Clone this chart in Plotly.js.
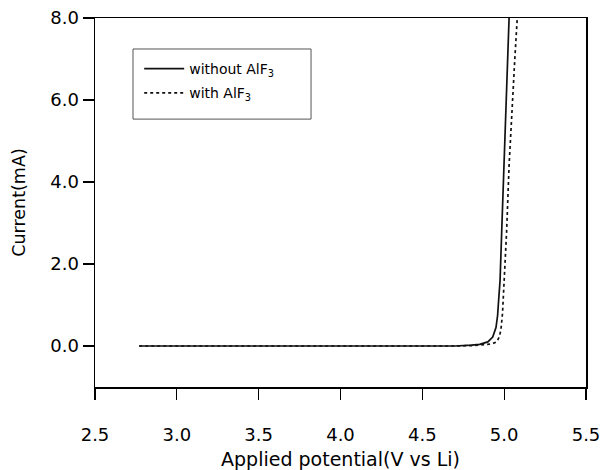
<!DOCTYPE html>
<html>
<head>
<meta charset="utf-8">
<script src="https://cdn.plot.ly/plotly-3.0.1.min.js"></script>
<style>html,body{margin:0;padding:0;background:#fff;}#chart{width:603px;height:470px;}</style>
</head>
<body>
<div id="chart"></div>
<script>
// Potential (V vs Li) and current (mA)
const potentialWithout = [2.77, 3.0, 3.5, 4.0, 4.5, 4.7, 4.8, 4.85, 4.9, 4.93, 4.95, 4.96, 4.965, 4.975, 4.985, 5.0, 5.01, 5.02, 5.03];
const currentWithout   = [0.0, 0.0, 0.0, 0.0, -0.01, 0.0, 0.02, 0.04, 0.1, 0.22, 0.45, 0.75, 1.05, 1.6, 2.8, 4.5, 6.0, 7.0, 8.0];
const potentialWith    = [2.77, 3.0, 3.5, 4.0, 4.5, 4.7, 4.8, 4.85, 4.9, 4.93, 4.955, 4.97, 4.98, 4.99, 4.995, 5.0, 5.015, 5.03, 5.05, 5.065, 5.08];
const currentWith      = [0.0, 0.0, 0.0, 0.0, -0.01, 0.0, 0.01, 0.02, 0.04, 0.06, 0.1, 0.22, 0.39, 0.8, 1.2, 1.6, 2.8, 4.4, 6.0, 7.0, 8.0];
const seriesNames = ["without AlF<sub>3</sub>", "with AlF<sub>3</sub>"];
const xTicks = [2.5, 3.0, 3.5, 4.0, 4.5, 5.0, 5.5];
const yTicks = [0.0, 2.0, 4.0, 6.0, 8.0];

const FONT = "DejaVu Sans, Verdana, sans-serif";

const traces = [
  {x: potentialWithout, y: currentWithout, name: seriesNames[0], type: "scatter", mode: "lines",
   line: {color: "#111", width: 1.7, dash: "solid"}, legendgroup: "a"},
  {x: potentialWith, y: currentWith, name: seriesNames[1], type: "scatter", mode: "lines",
   line: {color: "#111", width: 1.7, dash: "dot"}, legendgroup: "b"}
];

const layout = {
  width: 603, height: 470,
  margin: {l: 95, r: 17, t: 18, b: 83},
  paper_bgcolor: "#fff", plot_bgcolor: "#fff",
  font: {family: FONT, color: "#000", size: 18},
  showlegend: true,
  legend: {x: 0.09, y: 0.905, xanchor: "left", yanchor: "top", bgcolor: "rgba(0,0,0,0)",
           borderwidth: 0, itemwidth: 40, font: {family: FONT, size: 14, color: "#000"}, tracegroupgap: 3},
  xaxis: {range: [2.5, 5.5], tickvals: xTicks, ticktext: xTicks.map(v => v.toFixed(1)),
          ticks: "outside", ticklen: 11, tickwidth: 1.2, tickcolor: "#000",
          showline: true, linecolor: "#000", linewidth: 1.5, mirror: true,
          showgrid: false, zeroline: false, tickfont: {size: 18}, ticklabelstandoff: 20,
          title: {text: "Applied potential(V vs Li)", font: {size: 19}, standoff: 8}},
  yaxis: {range: [-1, 8], tickvals: yTicks, ticktext: yTicks.map(v => v.toFixed(1)),
          ticks: "outside", ticklen: 11, tickwidth: 1.2, tickcolor: "#000",
          showline: true, linecolor: "#000", linewidth: 1.5, mirror: true,
          showgrid: false, zeroline: false, tickfont: {size: 18},
          title: {text: "Current(mA)", font: {size: 17.5}, standoff: 20}},
  shapes: [{type: "rect", xref: "paper", yref: "paper", x0: 0.0774, x1: 0.44, y0: 0.726, y1: 0.916,
            line: {color: "#555", width: 1}}]
};

Plotly.newPlot("chart", traces, layout, {staticPlot: true, displayModeBar: false});
</script>
</body>
</html>
